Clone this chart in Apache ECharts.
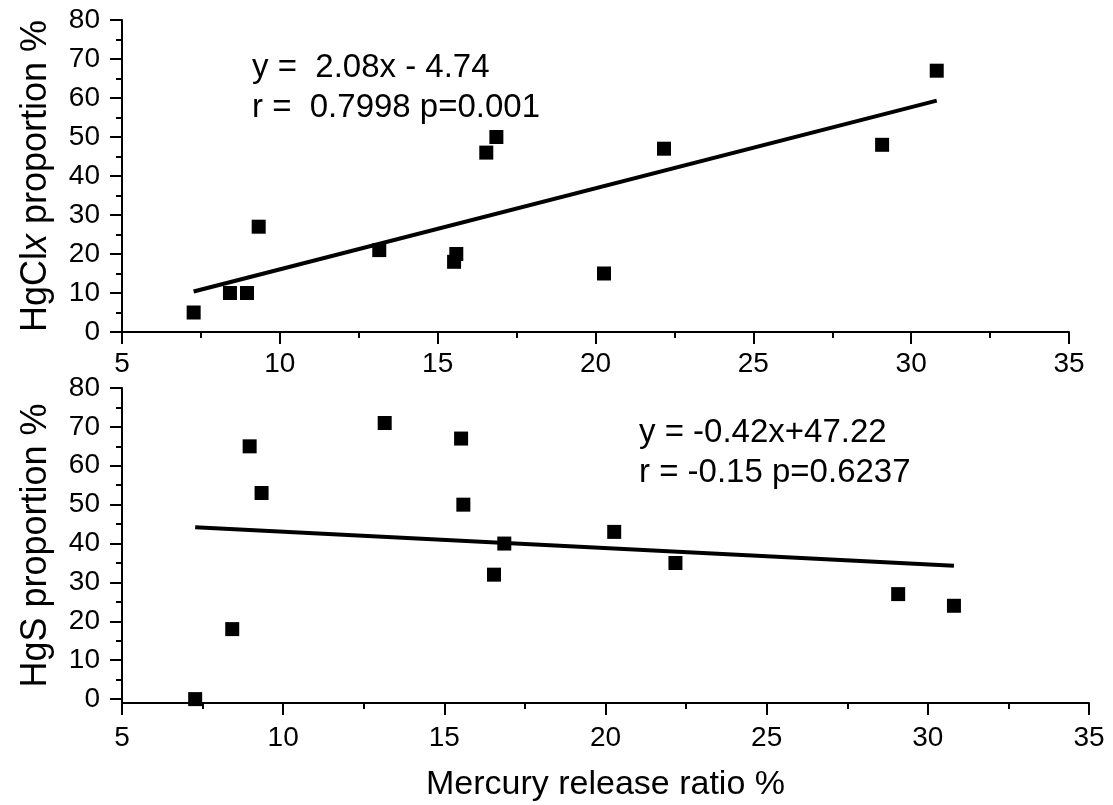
<!DOCTYPE html>
<html>
<head>
<meta charset="utf-8">
<script src="https://cdn.jsdelivr.net/npm/echarts@6/dist/echarts.min.js"></script>
<style>
html,body{margin:0;padding:0;background:#fff;}
#c{width:1113px;height:805px;}
</style>
</head>
<body>
<div id="c"></div>
<script>
// Mercury release ratio % (x) for each sample
const releaseRatio = [7.27, 8.42, 8.96, 9.33, 13.15, 15.52, 15.59, 16.54, 16.86, 20.27, 22.17, 29.08, 30.81];
// HgClx proportion %
const hgclx = [5, 10, 10, 27, 21, 18, 20, 46, 50, 15, 47, 48, 67];
// HgS proportion %
const hgs = [0, 18, 65, 53, 71, 67, 50, 32, 40, 43, 35, 27, 24];
// Fit line end points
const fitTopX = [7.27, 30.81];
const fitTopY = [10.38, 59.34];
const fitBotX = [7.27, 30.81];
const fitBotY = [44.17, 34.28];
// Axis ticks
const yTicks = [0, 10, 20, 30, 40, 50, 60, 70, 80];
const yMinorTicks = [5, 15, 25, 35, 45, 55, 65, 75];
const eqTop = ['y =  2.08x - 4.74', 'r =  0.7998 p=0.001'];
const eqBot = ['y = -0.42x+47.22', 'r = -0.15 p=0.6237'];

const FONT = 'Liberation Sans, Arial, sans-serif';
const pair = (xs, ys) => xs.map((x, i) => [x, ys[i]]);

const axisLine = {show: true, onZero: false, lineStyle: {color: '#000', width: 2}};
function xAx(gridIndex, nameTxt, margin) {
  return {
    type: 'value', gridIndex, min: 5, max: 35, interval: 5,
    axisLine, splitLine: {show: false},
    axisTick: {show: true, inside: false, length: 12, lineStyle: {color: '#000', width: 2}},
    minorTick: {show: true, splitNumber: 2, length: 6, lineStyle: {color: '#000', width: 2}},
    minorSplitLine: {show: false},
    axisLabel: {color: '#000', fontSize: 28, fontFamily: FONT, margin},
    name: nameTxt || '', nameLocation: 'middle', nameGap: 65,
    nameTextStyle: {color: '#000', fontSize: 34, fontFamily: FONT}
  };
}
function yAx(gridIndex, min, nameRich, fs) {
  return {
    type: 'value', gridIndex, min, max: 80, position: 'left',
    axisLine, splitLine: {show: false},
    axisTick: {show: true, length: 12, customValues: yTicks, lineStyle: {color: '#000', width: 2}},
    axisLabel: {color: '#000', fontSize: 28, fontFamily: FONT, margin: 22, customValues: yTicks},
    name: nameRich, nameLocation: 'middle', nameGap: 68,
    nameTextStyle: {color: '#000', fontSize: fs, fontFamily: FONT,
      rich: {a: {fontSize: fs, fontFamily: FONT, color: '#000'},
             i: {fontSize: fs, fontFamily: FONT, color: '#000', fontStyle: 'italic'}}}
  };
}
function yMinor(gridIndex, min) {
  return {
    type: 'value', gridIndex, min, max: 80, position: 'left',
    axisLine: {show: false}, splitLine: {show: false},
    axisTick: {show: true, length: 6, customValues: yMinorTicks, lineStyle: {color: '#000', width: 2}},
    axisLabel: {show: false}
  };
}

const chart = echarts.init(document.getElementById('c'), null, {renderer: 'canvas'});
chart.setOption({
  backgroundColor: '#fff',
  animation: false,
  grid: [
    {left: 122, right: 44, top: 20, height: 312},
    {left: 122, right: 24, top: 388, height: 315}
  ],
  xAxis: [xAx(0, '', 18), xAx(1, 'Mercury release ratio %', 21)],
  yAxis: [
    yAx(0, 0, '{a|HgCl}{i|x}{a| proportion %}', 36),
    yAx(1, -1, '{a|HgS proportion %}', 36),
    yMinor(0, 0),
    yMinor(1, -1)
  ],
  graphic: [
    {type: 'text', left: 252, top: 48, style: {text: eqTop.join('\n'), font: '33px ' + FONT, fill: '#000', lineHeight: 40}},
    {type: 'text', left: 639, top: 413, style: {text: eqBot.join('\n'), font: '33px ' + FONT, fill: '#000', lineHeight: 40}}
  ],
  series: [
    {type: 'line', xAxisIndex: 0, yAxisIndex: 0, data: pair(fitTopX, fitTopY), showSymbol: false, symbol: 'none',
     lineStyle: {color: '#000', width: 4}, z: 2},
    {type: 'scatter', xAxisIndex: 0, yAxisIndex: 0, data: pair(releaseRatio, hgclx), symbol: 'rect', symbolSize: 14,
     itemStyle: {color: '#000', opacity: 1}, z: 3},
    {type: 'line', xAxisIndex: 1, yAxisIndex: 1, data: pair(fitBotX, fitBotY), showSymbol: false, symbol: 'none',
     lineStyle: {color: '#000', width: 4}, z: 2},
    {type: 'scatter', xAxisIndex: 1, yAxisIndex: 1, data: pair(releaseRatio, hgs), symbol: 'rect', symbolSize: 14,
     itemStyle: {color: '#000', opacity: 1}, z: 3}
  ]
});
</script>
</body>
</html>
